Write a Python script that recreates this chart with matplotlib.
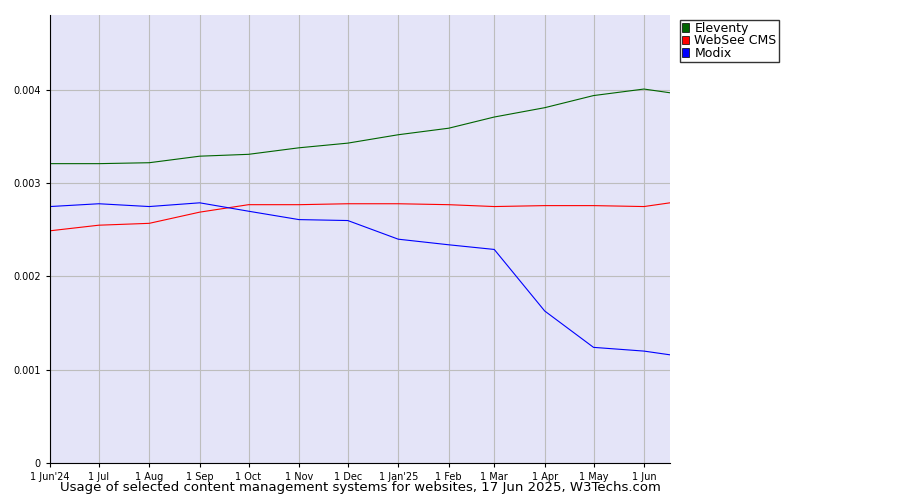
import matplotlib
matplotlib.use("Agg")
import matplotlib.pyplot as plt
from matplotlib.patches import Patch
import datetime as dt

dates = [dt.date(2024,6,1),dt.date(2024,7,1),dt.date(2024,8,1),dt.date(2024,9,1),dt.date(2024,10,1),
         dt.date(2024,11,1),dt.date(2024,12,1),dt.date(2025,1,1),dt.date(2025,2,1),dt.date(2025,3,1),
         dt.date(2025,4,1),dt.date(2025,5,1),dt.date(2025,6,1),dt.date(2025,6,17)]
eleventy = [0.00321,0.00321,0.00322,0.00329,0.00331,0.00338,0.00343,0.00352,0.00359,0.00371,0.00381,0.00394,0.00401,0.00397]
websee = [0.00249,0.00255,0.00257,0.00269,0.00277,0.00277,0.00278,0.00278,0.00277,0.00275,0.00276,0.00276,0.00275,0.00279]
modix = [0.00275,0.00278,0.00275,0.00279,0.00270,0.00261,0.00260,0.00240,0.00234,0.00229,0.00163,0.00124,0.00120,0.00116]
tick_labels = ["1 Jun'24","1 Jul","1 Aug","1 Sep","1 Oct","1 Nov","1 Dec","1 Jan'25","1 Feb","1 Mar","1 Apr","1 May","1 Jun"]
names = ["Eleventy","WebSee CMS","Modix"]
colors = ["#006400","#ff0000","#0000ff"]

fig = plt.figure(figsize=(9,5), dpi=100)
ax = fig.add_axes([50/900, 37/500, 620/900, 448/500])
ax.set_facecolor("#e4e4f8")
for s,c in zip([eleventy,websee,modix],colors):
    ax.plot(dates, s, color=c, lw=0.8)
ax.set_xlim(dates[0], dates[-1])
ax.set_ylim(0, 0.004804)
ax.set_xticks(dates[:-1])
ax.set_xticklabels(tick_labels, fontsize=7)
ax.set_yticks([0,0.001,0.002,0.003,0.004])
ax.set_yticklabels(["0","0.001","0.002","0.003","0.004"], fontsize=7)
ax.grid(True, color="#bdbdbd", lw=0.8)
ax.set_axisbelow(True)
for sp in ["top","right"]:
    ax.spines[sp].set_visible(False)
ax.tick_params(length=3)
handles = [Patch(facecolor=c, edgecolor="black", lw=0.5) for c in colors]
fig.legend(handles, names, loc="upper left", bbox_to_anchor=(680/900, 1-20/500), fontsize=9,
           frameon=True, fancybox=False, edgecolor="black", handlelength=0.6, handleheight=0.7,
           handletextpad=0.4, borderpad=0.15, labelspacing=-0.05, borderaxespad=0)
fig.text(360/900, 1-488/500, "Usage of selected content management systems for websites, 17 Jun 2025, W3Techs.com",
         ha="center", va="center", fontsize=9.5)
fig.savefig("out.png", dpi=100)
